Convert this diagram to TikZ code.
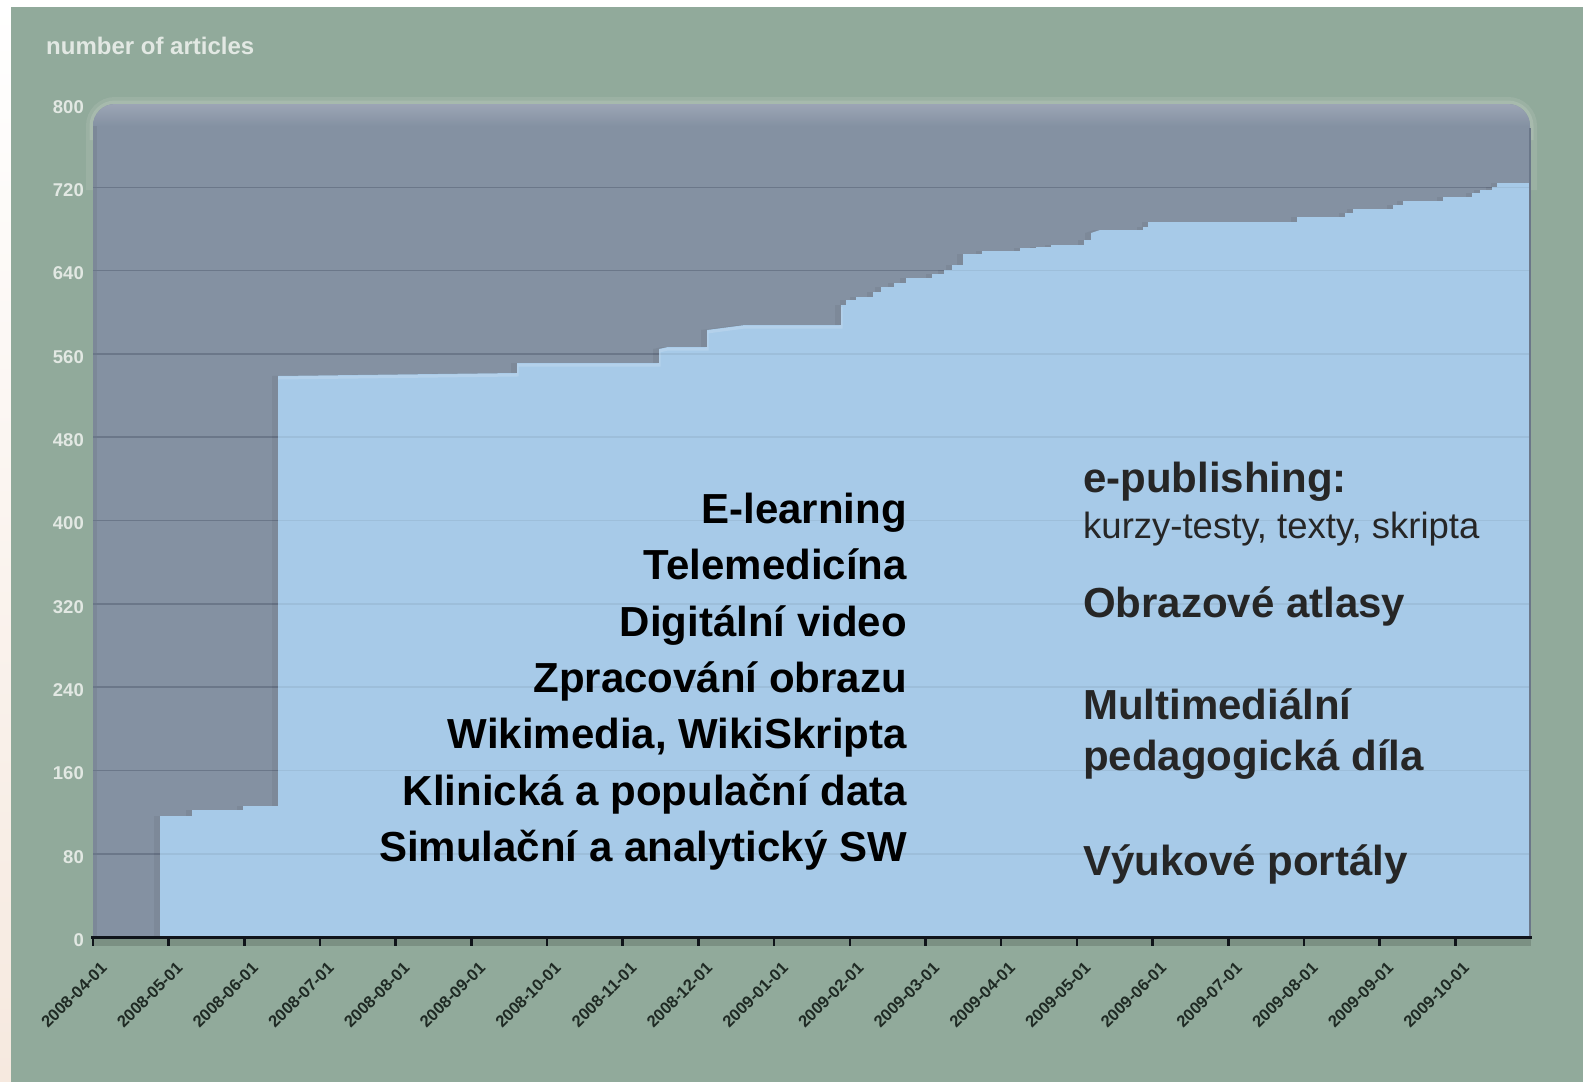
\documentclass[tikz,border=0pt]{standalone}
\usepackage{fontspec}
\setmainfont{Liberation Sans}
\definecolor{pagepeach}{HTML}{F6E9DF}
\definecolor{bggreen}{HTML}{91AA9B}
\definecolor{halo}{HTML}{B3C3B8}
\definecolor{plotdark}{HTML}{8491A2}
\definecolor{plottop}{HTML}{9CA5B5}
\definecolor{gridc}{HTML}{6B7789}
\definecolor{barblue}{HTML}{A7CAE8}
\definecolor{axisc}{HTML}{10141A}
\definecolor{ylabc}{HTML}{E2E8E3}
\definecolor{ticklabc}{HTML}{1F2A24}
\definecolor{txtgray}{HTML}{262626}
\newcommand\bluepath{(160,937) -- (160,816) -| (192,810) -| (243,806) -| (278,376) -- (517,373) -| (517,363)
 -| (659,349) -- (668,347) -| (707,330) -- (745,325) -| (841,305) -| (846,300) -| (856,297) -| (873,292)
 -| (881,287) -| (894,283) -| (906,278) -| (932,274) -| (944,270) -| (952,265) -| (963,254) -| (982,251)
 -| (1020,248) -| (1036,247) -| (1051,245) -| (1084,240) -| (1091,233) -- (1100,230) -| (1143,227)
 -| (1148,222) -| (1297,217) -| (1345,213) -| (1353,209) -| (1393,205) -| (1403,201) -| (1443,197)
 -| (1472,193) -| (1480,190) -| (1492,187) -| (1497,183) -| (1530,182) -- (1530,937) -- cycle}
\newcommand\plotpath{[rounded corners=22] (93,500) -- (93,104) -- (1530,104) -- (1530,500) [sharp corners] -- (1530,937) -- (93,937) -- cycle}
\begin{document}
\begin{tikzpicture}[x=1pt,y=-1pt,
  ylab/.style={anchor=east, inner sep=0, font=\fontsize{18.5}{20}\selectfont\bfseries, text=ylabc},
  ticklab/.style={anchor=east, rotate=45, inner sep=0, font=\fontsize{16.5}{18}\selectfont\bfseries, text=ticklabc},
  lefttxt/.style={anchor=base east, inner sep=0, font=\fontsize{42}{44}\selectfont\bfseries, text=black},
  righttxt/.style={anchor=base west, inner sep=0, font=\fontsize{42}{44}\selectfont\bfseries, text=txtgray},
  rightsub/.style={anchor=base west, inner sep=0, font=\fontsize{36.5}{38}\selectfont, text=txtgray}]
\useasboundingbox (0,0) rectangle (1583,1082);
% page and background
\fill[white] (0,0) rectangle (1583,1082);
\shade[top color=white, bottom color=pagepeach] (0,0) rectangle (11,1082);
\fill[bggreen] (11,7) rectangle (1583,1082);
% halo round the top of the plot
\draw[halo, line width=14, opacity=.3, rounded corners=22] (93,190) -- (93,104) -- (1530,104) -- (1530,190);
\draw[halo, line width=7, opacity=.5, rounded corners=22] (93,140) -- (93,104) -- (1530,104) -- (1530,140);
% plot area
\fill[plotdark] \plotpath;
\begin{scope}
  \clip \plotpath;
  \shade[top color=plottop, bottom color=plotdark] (93,104) rectangle (1530,126);
  \fill[black, opacity=.06] (93,126) rectangle (97,937);
\end{scope}
% grid lines on dark area
\foreach \k in {1,...,9}{
  \pgfmathsetmacro\gy{937-83.3*\k}
  \draw[gridc, line width=1.6] (93,\gy) -- (1530,\gy);
}
% data area with soft shadow
\fill[black, opacity=.05, xshift=-6pt] \bluepath;
\fill[barblue] \bluepath;
\begin{scope}
  \clip \bluepath;
  \foreach \k in {1,...,9}{
    \pgfmathsetmacro\gy{937-83.3*\k}
    \draw[black, opacity=.06, line width=1.6] (93,\gy) -- (1530,\gy);
  }
  \draw[white, opacity=.15, line width=3, yshift=-2pt] (278,376) -- (517,373) -| (517,363) -| (659,349) -- (668,347) -| (707,330) -- (745,325) -| (841,305);
\end{scope}
\draw[gridc, line width=1.4] (1530,128) -- (1530,937);
% y labels
\foreach \k in {0,...,10}{
  \pgfmathsetmacro\gy{937-83.3*\k}
  \pgfmathtruncatemacro\val{80*\k}
  \node[ylab] (y\k) at (84,\gy+3) {\val};
}
\node[anchor=base west, inner sep=0, font=\fontsize{24}{26}\selectfont\bfseries, text=ylabc] (title) at (46,54) {number of articles};
% x axis
\draw[black, opacity=.15, line width=8] (92,942) -- (1531,942);
\draw[axisc, line width=3] (91,937) -- (1532,937);
\foreach [count=\m from 0] \lab in {2008-04-01,2008-05-01,2008-06-01,2008-07-01,2008-08-01,2008-09-01,2008-10-01,2008-11-01,2008-12-01,2009-01-01,2009-02-01,2009-03-01,2009-04-01,2009-05-01,2009-06-01,2009-07-01,2009-08-01,2009-09-01,2009-10-01}{
  \pgfmathsetmacro\tx{93+75.68*\m}
  \draw[axisc, line width=2.6] (\tx,937) -- (\tx,946);
  \node[ticklab] (x\m) at (\tx+11,965) {\lab};
}
% left column
\node[lefttxt] (t1) at (907,523) {E-learning};
\node[lefttxt] (t2) at (907,579) {Telemedicína};
\node[lefttxt] (t3) at (907,636) {Digitální video};
\node[lefttxt] (t4) at (907,692) {Zpracování obrazu};
\node[lefttxt] (t5) at (907,748) {Wikimedia, WikiSkripta};
\node[lefttxt] (t6) at (907,805) {Klinická a populační data};
\node[lefttxt] (t7) at (907,861) {Simulační a analytický SW};
% right column
\node[righttxt] (r1) at (1083,492) {e-publishing:};
\node[rightsub] (r2) at (1083,538) {kurzy-testy, texty, skripta};
\node[righttxt] (r3) at (1083,617) {Obrazové atlasy};
\node[righttxt] (r4) at (1083,719) {Multimediální};
\node[righttxt] (r5) at (1083,770) {pedagogická díla};
\node[righttxt] (r6) at (1083,875) {Výukové portály};
\end{tikzpicture}
\end{document}
